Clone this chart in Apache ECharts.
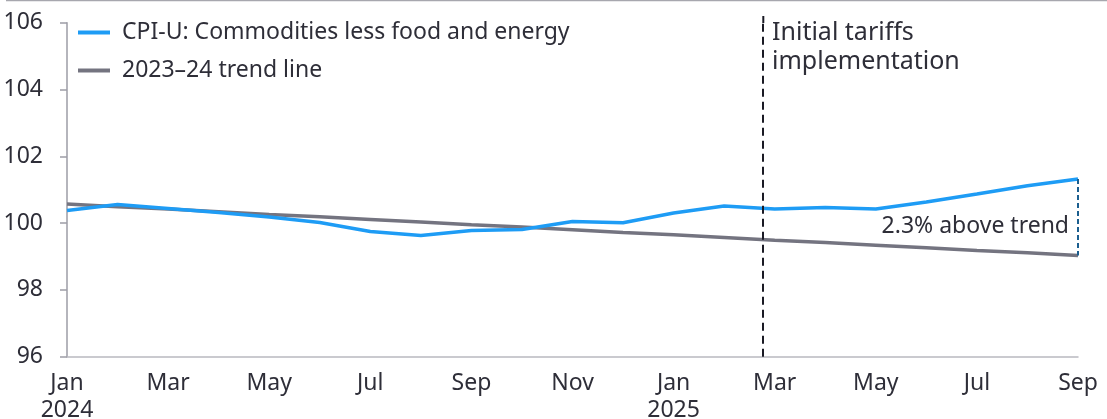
<!DOCTYPE html>
<html>
<head>
<meta charset="utf-8">
<script src="https://cdn.jsdelivr.net/npm/echarts@6/dist/echarts.min.js"></script>
<style>
  html, body { margin: 0; padding: 0; background: #fff; }
  #chart { width: 1107px; height: 419px; }
</style>
</head>
<body>
<div id="chart"></div>
<script>
// Monthly index, Jan 2024 = position 0 ... Sep 2025 = position 20
const months = ['Jan\n2024', 'Feb', 'Mar', 'Apr', 'May', 'Jun', 'Jul', 'Aug', 'Sep', 'Oct', 'Nov', 'Dec',
                'Jan\n2025', 'Feb', 'Mar', 'Apr', 'May', 'Jun', 'Jul', 'Aug', 'Sep'];
const cpiCore = [100.38, 100.56, 100.44, 100.32, 100.18, 100.02, 99.75, 99.63, 99.78, 99.81, 100.05,
                 100.01, 100.30, 100.51, 100.42, 100.47, 100.42, 100.63, 100.87, 101.12, 101.32];
const trendLine = [100.57, 100.49, 100.42, 100.34, 100.26, 100.19, 100.11, 100.03, 99.95, 99.88, 99.80,
                   99.72, 99.65, 99.57, 99.49, 99.42, 99.34, 99.26, 99.18, 99.11, 99.03];
const yTicks = [96, 98, 100, 102, 104, 106];
const tariffPos = 13.77;          // late Feb 2025
const seriesNames = ['CPI-U: Commodities less food and energy', '2023\u201324 trend line'];
const gapLabel = '2.3% above trend';
const tariffLabel = 'Initial tariffs\nimplementation';

const FONT = 'Noto Sans';
const TEXT = '#2e2e38';
const last = cpiCore.length - 1;

const chart = echarts.init(document.getElementById('chart'), null, { renderer: 'canvas' });
chart.setOption({
  animation: false,
  backgroundColor: '#ffffff',
  textStyle: { fontFamily: FONT },
  grid: { left: 67, right: 29, top: 22.7, bottom: 62.3, containLabel: false, outerBoundsMode: 'none' },
  legend: {
    orient: 'vertical',
    left: 73, top: 16,
    itemWidth: 32, itemHeight: 4, itemGap: 15,
    icon: 'rect',
    textStyle: { fontFamily: FONT, fontSize: 23, color: TEXT, padding: [0, 0, 0, 7] },
    data: seriesNames
  },
  xAxis: {
    type: 'value',
    min: 0, max: 20, interval: 2,
    axisLine: { show: true, lineStyle: { color: '#b9b9c0', width: 1.5 } },
    axisTick: { show: false },
    splitLine: { show: false },
    axisLabel: {
      formatter: v => months[v] || '',
      fontFamily: FONT, fontSize: 23, color: TEXT,
      lineHeight: 27, margin: 13
    }
  },
  yAxis: {
    type: 'value',
    min: yTicks[0], max: yTicks[yTicks.length - 1], interval: 2,
    axisLine: { show: true, lineStyle: { color: '#9d9da6', width: 1.5 } },
    axisTick: { show: true, inside: false, length: 7, lineStyle: { color: '#9d9da6', width: 1.5 } },
    splitLine: { show: false },
    axisLabel: { fontFamily: FONT, fontSize: 23, color: TEXT, margin: 24 }
  },
  series: [
    {
      name: seriesNames[0],
      type: 'line',
      data: cpiCore.map((v, i) => [i, v]),
      showSymbol: false,
      lineStyle: { color: '#1e9cf5', width: 3.5 },
      itemStyle: { color: '#1e9cf5' },
      z: 3,
      markLine: {
        silent: true,
        symbol: 'none',
        label: { show: false },
        data: [
          [
            { coord: [last, cpiCore[last]], lineStyle: { color: '#1b5e8f', type: [5, 3], width: 2 } },
            { coord: [last, trendLine[last]] }
          ]
        ]
      }
    },
    {
      name: seriesNames[1],
      type: 'line',
      data: trendLine.map((v, i) => [i, v]),
      showSymbol: false,
      lineStyle: { color: '#747480', width: 3.5 },
      itemStyle: { color: '#747480' },
      z: 2,
      markLine: {
        silent: true,
        symbol: 'none',
        label: { show: false },
        lineStyle: { color: '#1a1a24', type: [8, 5], width: 2 },
        data: [ { xAxis: tariffPos } ]
      }
    }
  ],
  graphic: [
    { type: 'line', shape: { x1: 6, y1: 0.5, x2: 1107, y2: 0.5 }, style: { stroke: '#a7a7ae', lineWidth: 1.5 } },
    { type: 'line', shape: { x1: 763.3, y1: 16, x2: 763.3, y2: 23 }, style: { stroke: '#1a1a24', lineWidth: 2, lineDash: [8, 5] } },
    {
      type: 'text', left: 772, top: 18,
      style: { text: tariffLabel, font: '25px "' + FONT + '"', fill: TEXT, lineHeight: 29 }
    },
    {
      type: 'text', right: 38, top: 215,
      style: { text: gapLabel, font: '23px "' + FONT + '"', fill: TEXT, textAlign: 'right' }
    }
  ]
});
</script>
</body>
</html>
